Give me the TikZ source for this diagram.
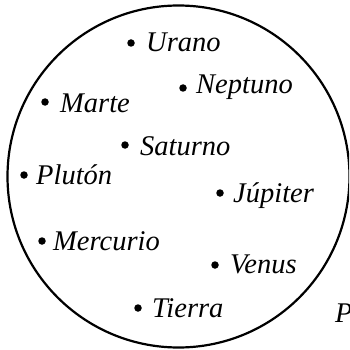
\documentclass[tikz,border=0pt]{standalone}
\usepackage{fontspec}
\setmainfont{Liberation Serif}
\begin{document}
\begin{tikzpicture}[x=1pt,y=-1pt,
  pdot/.style={circle,fill=black,inner sep=0pt,minimum size=7.5pt},
  pname/.style={anchor=base west,inner sep=0pt,font=\fontsize{28.5}{32}\selectfont\itshape}]
\useasboundingbox (0,0) rectangle (349,350);
\clip (0,0) rectangle (349,350);
\draw[line width=2.2pt] (178.5,176.5) circle[radius=171];
\node[pdot] (du) at (131,43) {};  \node[pname] (urano) at (146,52) {Urano};
\node[pdot] (dn) at (183,88) {};  \node[pname] (neptuno) at (196,94) {Neptuno};
\node[pdot] (dm) at (45,102) {};  \node[pname] (marte) at (60,112) {Marte};
\node[pdot] (ds) at (125,145) {}; \node[pname] (saturno) at (140,155) {Saturno};
\node[pdot] (dp) at (24,175) {};  \node[pname] (pluton) at (36,184) {Plutón};
\node[pdot] (dj) at (220,193) {}; \node[pname] (jupiter) at (233,202) {Júpiter};
\node[pdot] (dme) at (42,241) {}; \node[pname] (mercurio) at (53,250) {Mercurio};
\node[pdot] (dv) at (215,265) {}; \node[pname] (venus) at (230,273) {Venus};
\node[pdot] (dt) at (138,308) {}; \node[pname] (tierra) at (152,317) {Tierra};
\node[pname] (p) at (335,322) {P};
\end{tikzpicture}
\end{document}
